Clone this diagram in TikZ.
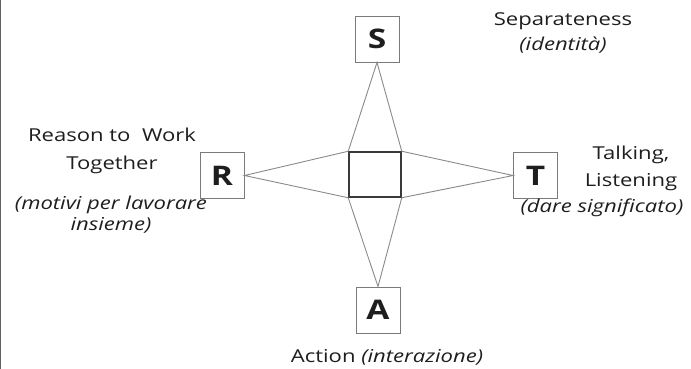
\documentclass[tikz,border=0pt]{standalone}
\usepackage{fontspec}
\setmainfont{Open Sans}[FakeStretch=1.24]
\usepackage{tikz}
\usetikzlibrary{positioning,calc}
\definecolor{edgegray}{HTML}{8A8A8A}
\definecolor{boxgray}{HTML}{7A7A7A}
\definecolor{coregray}{HTML}{3A3A3A}
\definecolor{textgray}{HTML}{1E1E1E}

\begin{document}
\begin{tikzpicture}[x=1pt,y=-1pt,
  letterbox/.style={draw=boxgray,line width=0.9pt,minimum width=44pt,minimum height=46pt,
    inner sep=0pt,text=textgray,font=\bfseries\fontsize{27}{27}\selectfont},
  spoke/.style={draw=edgegray,line width=0.9pt},
  caption/.style={align=center,text=textgray,inner sep=0pt,
    font=\fontsize{17.8}{27}\selectfont}]
\useasboundingbox (0,0) rectangle (691,369);
\draw[coregray!80,line width=1.4pt] (0.7,0) -- (0.7,369);
\node[draw=coregray,line width=1.5pt,minimum width=52pt,minimum height=45pt] (core) at (375,174.5) {};
\node[letterbox] (S) at (377,39) {S};
\node[letterbox] (R) at (222,175.5) {R};
\node[letterbox] (T) at (535.5,175.5) {T};
\node[letterbox] (A) at (378,310) {A};
% spokes of the star
\draw[spoke] (core.north west) -- (S.south) -- (core.north east);
\draw[spoke] (core.north west) -- (R.east) -- (core.south west);
\draw[spoke] (core.north east) -- (T.west) -- (core.south east);
\draw[spoke] (core.south west) -- (A.north) -- (core.south east);
% labels
\node[caption,font=\fontsize{17.8}{25}\selectfont] (sep) at (563,33) {Separateness\\\textit{(identità)}};
\node[caption] (talk) at (631,168) {Talking,\\Listening};
\node[caption] (talkit) at (602,208) {\textit{(dare significato)}};
\node[caption,font=\fontsize{17.8}{28}\selectfont] (reason) at (112,151) {Reason to\ \ Work\\Together};
\node[caption,font=\fontsize{17.8}{21}\selectfont] (reasonit) at (111,215) {\textit{(motivi per lavorare}\\\textit{insieme)}};
\node[caption] (act) at (387,357) {Action \textit{(interazione)}};
\end{tikzpicture}
\end{document}
